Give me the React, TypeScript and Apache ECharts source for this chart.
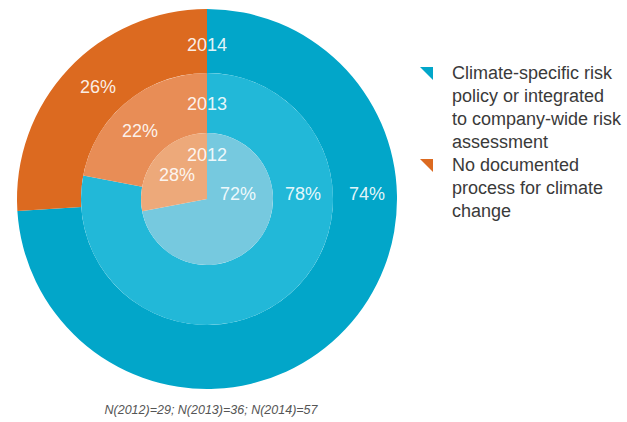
import React, { useEffect, useRef } from "react";
import * as echarts from "echarts";

const years = ["2012", "2013", "2014"];
const categories = [
  "Climate-specific risk policy or integrated to company-wide risk assessment",
  "No documented process for climate change",
];
const documented = [72, 78, 74];
const notDocumented = [28, 22, 26];
const sampleSizes = [29, 36, 57];
const legendLines = [
  ["Climate-specific risk", "policy or integrated", "to company-wide risk", "assessment"],
  ["No documented", "process for climate", "change"],
];

const blues = ["#76C9DF", "#22B8D8", "#02A6C9"];
const oranges = ["#EDA97A", "#E88D56", "#DC6A20"];

const FONT = "'Liberation Sans', Arial, sans-serif";

export default function App() {
  const ref = useRef<HTMLDivElement>(null);
  useEffect(() => {
    document.body.style.margin = "0";
    const chart = echarts.init(ref.current!, null, { renderer: "svg" });
    const cx = 207;
    const cy = 199;
    const radii: [number, number][] = [
      [0, 66],
      [66, 126],
      [126, 190],
    ];
    const series: any[] = years.map((y, i) => ({
      type: "pie",
      name: y,
      center: [cx, cy],
      radius: radii[i],
      startAngle: 90,
      clockwise: true,
      silent: true,
      label: { show: false },
      labelLine: { show: false },
      itemStyle: { borderWidth: 0 },
      z: 3 - i,
      data: [
        { name: categories[0], value: documented[i], itemStyle: { color: blues[i] } },
        { name: categories[1], value: notDocumented[i], itemStyle: { color: oranges[i] } },
      ],
    }));

    const labelFont = {
      fontFamily: FONT,
      fontWeight: "normal",
      fontSize: 18,
      fill: "rgba(255,255,255,0.9)",
    };
    const yearPos = [155, 104, 45];
    const bluePos: [number, number][] = [
      [238, 194],
      [303, 194],
      [367, 194],
    ];
    const orangePos: [number, number][] = [
      [177, 175],
      [140, 131],
      [98, 87],
    ];
    const graphics: any[] = [];
    years.forEach((y, i) => {
      graphics.push({
        type: "text",
        x: cx,
        y: yearPos[i],
        z: 100,
        style: { ...labelFont, text: y, align: "center", verticalAlign: "middle" },
      });
      graphics.push({
        type: "text",
        x: bluePos[i][0],
        y: bluePos[i][1],
        z: 100,
        style: { ...labelFont, text: documented[i] + "%", align: "center", verticalAlign: "middle" },
      });
      graphics.push({
        type: "text",
        x: orangePos[i][0],
        y: orangePos[i][1],
        z: 100,
        style: { ...labelFont, text: notDocumented[i] + "%", align: "center", verticalAlign: "middle" },
      });
    });
    // legend
    const legendTops = [67, 159];
    const legendColors = [blues[2], oranges[2]];
    legendLines.forEach((lines, k) => {
      const t = legendTops[k];
      graphics.push({
        type: "polygon",
        shape: { points: [[420, t], [433, t], [433, t + 13]] },
        style: { fill: legendColors[k] },
      });
      graphics.push({
        type: "text",
        x: 452,
        y: t - 6,
        style: {
          text: lines.join("\n"),
          fontFamily: FONT,
          fontSize: 18,
          lineHeight: 23,
          fill: "#3a3a3a",
          align: "left",
          verticalAlign: "top",
        },
      });
    });
    graphics.push({
      type: "text",
      x: 211,
      y: 410,
      style: {
        text: years.map((y, i) => `N(${y})=${sampleSizes[i]}`).join("; "),
        fontFamily: FONT,
        fontStyle: "italic",
        fontSize: 12.5,
        fill: "#555555",
        align: "center",
        verticalAlign: "middle",
      },
    });

    chart.setOption({
      animation: false,
      backgroundColor: "#ffffff",
      series,
      graphic: graphics,
    });
    return () => chart.dispose();
  }, []);
  return <div ref={ref} style={{ width: 627, height: 422 }} />;
}
